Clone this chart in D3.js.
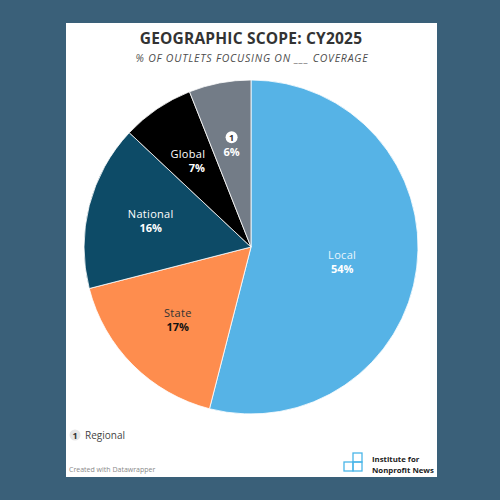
<!DOCTYPE html>
<html lang="en">
<head>
    <meta charset="UTF-8">
    <title>Geographic Scope: CY2025</title>
    <script src="https://d3js.org/d3.v7.min.js"></script>
    <style>
        body { margin: 0; background: #3a6079; }
        svg { display: block; }
        text { font-family: "Open Sans", "Lato", sans-serif; }
    </style>
</head>
<body>
<svg id="chart" width="500" height="500"></svg>
<script>
    const categories = ["Local", "State", "National", "Global", "Regional"];
    const shares = [54, 17, 16, 7, 6];
    const sliceColors = ["#56b3e6", "#fe8d4e", "#0d4b67", "#000000", "#737c87"];
    const labelColors = ["#e9f5fc", "#333333", "#ffffff", "#ffffff", "#ffffff"];
    const valueColors = ["#ffffff", "#111111", "#ffffff", "#ffffff", "#ffffff"];

    const width = 500, height = 500;
    const svg = d3.select("#chart");

    // background and card
    svg.append("rect").attr("width", width).attr("height", height).attr("fill", "#3a6079");
    svg.append("rect").attr("x", 66).attr("y", 23).attr("width", 371).attr("height", 454).attr("fill", "#ffffff");

    svg.append("text")
        .attr("x", 251).attr("y", 44)
        .attr("text-anchor", "middle")
        .attr("font-size", 15.5).attr("font-weight", 700)
        .attr("letter-spacing", 0.2)
        .attr("fill", "#333333")
        .text("GEOGRAPHIC SCOPE: CY2025");

    svg.append("text")
        .attr("x", 252).attr("y", 62)
        .attr("text-anchor", "middle")
        .attr("font-size", 10.5).attr("font-style", "italic")
        .attr("letter-spacing", 0.8)
        .attr("fill", "#4d4d4d")
        .text("% OF OUTLETS FOCUSING ON ___ COVERAGE");

    const cx = 251, cy = 247, radius = 167;
    const data = categories.map((c, i) => ({ name: c, value: shares[i], i: i }));

    const pie = d3.pie().value(d => d.value).sort(null);
    const arc = d3.arc().innerRadius(0).outerRadius(radius);
    const labelArc = d3.arc().innerRadius(radius * 0.62).outerRadius(radius * 0.62);
    const bigLabelArc = d3.arc().innerRadius(radius * 0.55).outerRadius(radius * 0.55);

    const g = svg.append("g").attr("transform", "translate(" + cx + "," + cy + ")");
    const arcs = pie(data);

    g.selectAll("path")
        .data(arcs)
        .enter().append("path")
        .attr("d", arc)
        .attr("fill", d => sliceColors[d.data.i])
        .attr("stroke", "#ffffff")
        .attr("stroke-width", 0.8);

    const labels = g.selectAll("g.label")
        .data(arcs)
        .enter().append("g")
        .attr("class", "label")
        .attr("transform", function(d) {
            const p = (d.data.value > 40 ? bigLabelArc : labelArc).centroid(d);
            if (d.data.value > 40) p[1] += 3;
            return "translate(" + p[0] + "," + p[1] + ")";
        });

    labels.each(function(d) {
        const el = d3.select(this);
        if (d.data.name === "Regional") {
            el.append("circle").attr("cx", 0).attr("cy", -8).attr("r", 6).attr("fill", "#ffffff");
            el.append("text").attr("x", 0).attr("y", -4.5)
                .attr("text-anchor", "middle").attr("font-size", 9).attr("font-weight", 700)
                .attr("fill", "#333333").text("1");
        } else {
            el.append("text").attr("x", d.data.name === "Global" ? -5 : 0).attr("y", -3)
                .attr("text-anchor", "middle").attr("font-size", 11)
                .attr("letter-spacing", 0.3)
                .attr("fill", labelColors[d.data.i]).text(d.data.name);
        }
        el.append("text").attr("x", d.data.name === "Global" ? 4 : 0).attr("y", 11)
            .attr("text-anchor", "middle").attr("font-size", 11).attr("font-weight", 700)
            .attr("fill", valueColors[d.data.i]).text(d.data.value + "%");
    });

    // legend note
    svg.append("circle").attr("cx", 75).attr("cy", 435).attr("r", 5.5).attr("fill", "#e6e6e6");
    svg.append("text").attr("x", 75).attr("y", 438.5).attr("text-anchor", "middle")
        .attr("font-size", 9).attr("font-weight", 700).attr("fill", "#333333").text("1");
    svg.append("text").attr("x", 85).attr("y", 439).attr("font-size", 10)
        .attr("fill", "#444444").text("Regional");

    svg.append("text").attr("x", 69).attr("y", 472).attr("font-size", 7)
        .attr("fill", "#8a8a8a").text("Created with Datawrapper");

    // logo
    const logo = svg.append("g").attr("fill", "none").attr("stroke", "#4ab6e8").attr("stroke-width", 1.3);
    logo.append("rect").attr("x", 353).attr("y", 453).attr("width", 9).attr("height", 9);
    logo.append("rect").attr("x", 344).attr("y", 462).attr("width", 9).attr("height", 9);
    logo.append("rect").attr("x", 353).attr("y", 462).attr("width", 9).attr("height", 9);
    svg.append("text").attr("x", 372).attr("y", 462).attr("font-size", 7.8).attr("font-weight", 700)
        .attr("fill", "#222222").text("Institute for");
    svg.append("text").attr("x", 372).attr("y", 473).attr("font-size", 7.8).attr("font-weight", 700)
        .attr("fill", "#222222").text("Nonprofit News");
</script>
</body>
</html>
